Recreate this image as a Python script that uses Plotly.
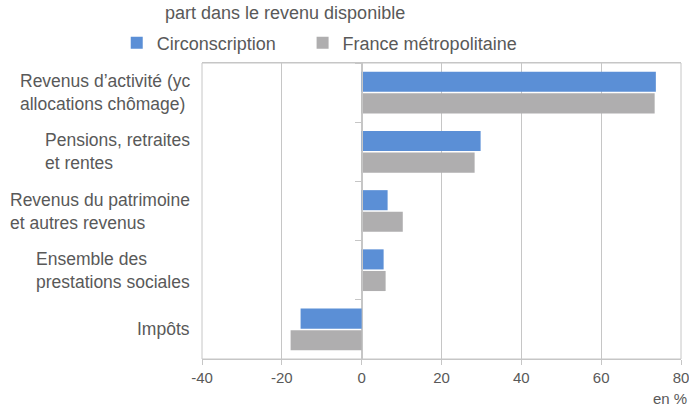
import plotly.graph_objects as go

# ── Data ──────────────────────────────────────────────
categories = [
    "Revenus d’activité (yc<br>allocations chômage)",
    "Pensions, retraites<br>et rentes",
    "Revenus du patrimoine<br>et autres revenus",
    "Ensemble des<br>prestations sociales",
    "Impôts",
]
circonscription = [73.7, 29.8, 6.5, 5.5, -15.3]
france_metro = [73.4, 28.3, 10.3, 6.0, -17.8]

x_ticks = [-40, -20, 0, 20, 40, 60, 80]
x_tick_labels = ["-40", "-20", "0", "20", "40", "60", "80"]

BLUE = "#5B8FD6"
GREY = "#AFAEAF"
TEXT = "#595959"
GRID = "#C6C6C6"
FONT = "Arial, Liberation Sans, sans-serif"

fig = go.Figure()

fig.add_trace(go.Bar(
    y=categories, x=circonscription, orientation="h",
    name="Circonscription", marker_color=BLUE, marker_line_width=0,
    legend="legend",
))
fig.add_trace(go.Bar(
    y=categories, x=france_metro, orientation="h",
    name="France métropolitaine", marker_color=GREY, marker_line_width=0,
    legend="legend2",
))

# category labels, left-aligned blocks sitting left of the plot
for cat in categories:
    fig.add_annotation(
        x=0, xref="paper", xanchor="right", xshift=-10,
        y=cat, yref="y", yanchor="middle",
        text=cat, align="left", showarrow=False,
        font=dict(size=17.5, color=TEXT, family=FONT),
    )

fig.add_annotation(
    x=0, xref="paper", xanchor="left", xshift=-39,
    y=1, yref="paper", yanchor="middle", yshift=50,
    text="part dans le revenu disponible", showarrow=False,
    font=dict(size=18, color=TEXT, family=FONT),
)
fig.add_annotation(
    x=1, xref="paper", xanchor="right", xshift=8,
    y=0, yref="paper", yanchor="top", yshift=-29,
    text="en %", showarrow=False,
    font=dict(size=15, color=TEXT, family=FONT),
)

# plot frame (left/right edges coincide with the -40 and 80 grid lines)
fig.add_shape(
    type="rect", xref="paper", yref="paper", x0=0, x1=1, y0=0, y1=1,
    line=dict(color=GRID, width=1), layer="below",
)

legend_style = dict(
    orientation="h", xanchor="left", y=1.0676, yanchor="middle",
    font=dict(size=18, color=TEXT), itemwidth=30,
    bgcolor="rgba(0,0,0,0)",
)

fig.update_layout(
    width=689, height=406,
    margin=dict(l=202, r=8, t=63, b=47, autoexpand=False),
    plot_bgcolor="white", paper_bgcolor="white",
    font=dict(family=FONT, color=TEXT, size=15),
    barmode="group", bargap=0.27, bargroupgap=0.07,
    showlegend=True,
    legend=dict(x=-0.178, **legend_style),
    legend2=dict(x=0.21, **legend_style),
    xaxis=dict(
        range=[-40, 80], tickvals=x_ticks, ticktext=x_tick_labels,
        showgrid=True, gridcolor=GRID, gridwidth=1,
        zeroline=False, automargin=False,
        showline=True, linecolor=GRID, linewidth=1, mirror=True,
        ticks="outside", ticklen=5, tickcolor=GRID,
        tickfont=dict(size=15, color=TEXT),
        ticklabeloverflow="allow",
    ),
    yaxis=dict(
        autorange="reversed",
        anchor="free", position=1 / 3,
        showticklabels=False, automargin=False,
        tickmode="array", tickvals=[-0.5, 0.5, 1.5, 2.5, 3.5, 4.5],
        ticks="outside", ticklen=7, tickcolor=GRID,
        showline=True, linecolor=GRID, linewidth=1,
        showgrid=False, zeroline=False,
    ),
)

# drop the default 8px body margin so the figure fills the window exactly
fig.write_html(
    "out.html",
    config={"displayModeBar": False},
    post_script="document.body.style.margin='0';document.body.style.overflow='hidden';",
)
